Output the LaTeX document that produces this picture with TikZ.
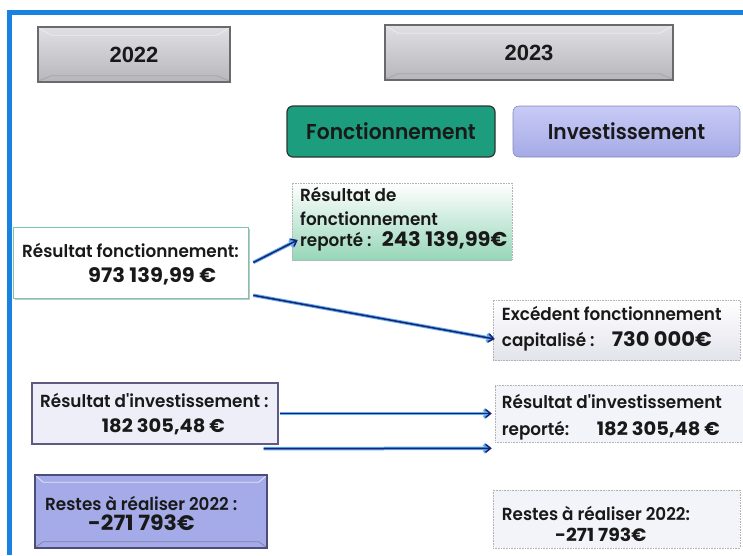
\documentclass[tikz,border=0pt]{standalone}
\usepackage{fontspec}
\setmainfont{Poppins}
\newfontfamily\lab{Poppins}[UprightFont=* SemiBold, FakeStretch=0.96]
\newfontfamily\hed{Poppins}[UprightFont=* SemiBold, FakeStretch=0.94]
\newfontfamily\num{Poppins}[UprightFont=* Bold, FakeStretch=1.05]
\newfontfamily\yr{Liberation Sans}
\usetikzlibrary{arrows.meta,calc,shadows}
\definecolor{frameblue}{RGB}{25,130,225}
\definecolor{navy}{RGB}{25,35,115}
\definecolor{glow}{RGB}{95,175,240}
\definecolor{gtop}{RGB}{224,224,228}
\definecolor{gbot}{RGB}{182,182,188}
\definecolor{gbord}{RGB}{105,105,110}
\definecolor{teal}{RGB}{28,158,126}
\definecolor{tealbord}{RGB}{40,55,48}
\definecolor{lavtop}{RGB}{200,203,246}
\definecolor{lavbot}{RGB}{165,170,230}
\definecolor{mint}{RGB}{150,214,184}
\definecolor{lavlight}{RGB}{238,238,248}
\definecolor{ribord}{RGB}{95,90,130}
\definecolor{rrfill}{RGB}{165,171,233}
\definecolor{rrbord}{RGB}{75,78,125}
\definecolor{ink}{RGB}{25,25,25}
\tikzset{
  x=1pt, y=-1pt,
  yearbox/.style={draw=gbord, line width=1.6pt, top color=gtop, bottom color=gbot, inner sep=0pt, font=\yr\bfseries\fontsize{22}{24}\selectfont, text=ink},
  headf/.style={draw=tealbord, line width=1.2pt, rounded corners=6pt, fill=teal, inner sep=0pt, font=\hed\fontsize{21.5}{24}\selectfont, text=ink},
  headi/.style={draw=lavbot!80!black, line width=0.6pt, rounded corners=6pt, top color=lavtop, bottom color=lavbot, inner sep=0pt, font=\hed\fontsize{21.5}{24}\selectfont, text=ink},
  plainbox/.style={draw=gray!60, densely dotted, line width=0.6pt, inner sep=0pt},
  lbl/.style={inner sep=0pt, anchor=base west, text=ink, font=\lab\fontsize{17.5}{20}\selectfont},
  nm/.style={inner sep=0pt, anchor=base west, text=ink, font=\num\fontsize{20}{22}\selectfont},
  conn/.style={draw=navy, line width=1.5pt, -{Straight Barb[length=5pt,width=8pt]},
    preaction={draw=glow, line width=3.5pt, -{Straight Barb[length=5pt,width=8pt]}}},
}
\begin{document}
\begin{tikzpicture}
\useasboundingbox (0,0) rectangle (743,555);
\fill[white] (0,0) rectangle (743,555);
% frame
\fill[frameblue] (7,10) rectangle (743,15);
\fill[frameblue] (7,10) rectangle (12,555);

% year boxes
\node[yearbox, minimum width=192, minimum height=55] (y22) at (134,54.5) {2022};
\node[yearbox, minimum width=288, minimum height=55] (y23) at (529,52.5) {2023};
\foreach \n in {y22,y23}{
  \draw[white!85!gray, line width=0.8pt] ($(\n.north west)+(2,2)$) -- ($(\n.north west)+(14,9)$) -- ($(\n.north east)+(-14,9)$) -- ($(\n.north east)+(-2,2)$);
  \draw[gray!70, line width=0.8pt] ($(\n.south west)+(2,-2)$) -- ($(\n.south west)+(14,-7)$) -- ($(\n.south east)+(-14,-7)$) -- ($(\n.south east)+(-2,-2)$);
}

% headers
\node[headf, minimum width=208, minimum height=51] (hf) at (391,131.5) {Fonctionnement};
\node[headi, minimum width=227, minimum height=51] (hi) at (626.5,131.5) {Investissement};

% 2022 boxes
\node[draw=teal!60, line width=0.6pt, inner sep=0pt, fill=white, drop shadow={shadow xshift=2pt, shadow yshift=-2pt, opacity=0.45}, minimum width=235, minimum height=71] (rf) at (130.5,262.5) {};
\node[lbl] (rft) at (22,257) {Résultat fonctionnement:};
\node[nm] (rfn) at (88,282) {973 139,99 €};

\node[draw=ribord, line width=1.4pt, fill=lavlight, inner sep=0pt, minimum width=246, minimum height=61] (ri) at (155,413.5) {};
\node[lbl] (rit) at (40,407.3) {Résultat d'investissement :};
\node[nm, font=\num\fontsize{18.5}{22}\selectfont] (rin) at (101.7,432.7) {182 305,48 €};

\node[draw=rrbord, line width=1.4pt, fill=rrfill, inner sep=0pt, minimum width=232, minimum height=73] (rr) at (151,511.5) {};
\draw[white!70!rrfill, line width=0.8pt] ($(rr.north west)+(2,2)$) -- ($(rr.north west)+(9,8)$) -- ($(rr.north east)+(-9,8)$) -- ($(rr.north east)+(-2,2)$);
\draw[rrbord!70, line width=0.8pt] ($(rr.south west)+(2,-2)$) -- ($(rr.south west)+(9,-7)$) -- ($(rr.south east)+(-9,-7)$) -- ($(rr.south east)+(-2,-2)$);
\node[lbl] (rrt) at (45,510) {Restes à réaliser 2022 :};
\node[nm, font=\num\fontsize{21}{22}\selectfont] (rrn) at (88,530) {-271 793€};

% 2023 boxes
\node[plainbox, top color=white, bottom color=mint, minimum width=220, minimum height=77] (rdf) at (402,221.5) {};
\node[lbl] (rdf1) at (300,201.7) {Résultat de};
\node[lbl] (rdf2) at (300,225) {fonctionnement};
\node[lbl] (rdf3) at (300,246.7) {reporté :};
\node[nm] (rdfn) at (381.7,246.7) {243 139,99€};

\node[plainbox, top color=white, bottom color=lavlight!90!gray, minimum width=247, minimum height=60] (exc) at (616.5,330) {};
\node[lbl] (exc1) at (501.7,320) {Excédent fonctionnement};
\node[lbl] (exc2) at (501.7,346.7) {capitalisé :};
\node[nm] (excn) at (611.7,346.7) {730 000€};

\node[plainbox, fill=lavlight!70!white, minimum width=248, minimum height=57] (rir) at (619,413.5) {};
\node[lbl] (rir1) at (501.7,408) {Résultat d'investissement};
\node[lbl] (rir2) at (501.7,435) {reporté:};
\node[nm, font=\num\fontsize{18.5}{22}\selectfont] (rirn) at (596.7,435) {182 305,48 €};

\node[plainbox, fill=lavlight!70!white, minimum width=247, minimum height=58] (rrr) at (616.5,519) {};
\node[lbl] (rrr1) at (501.7,520) {Restes à réaliser 2022:};
\node[nm, font=\num\fontsize{18}{22}\selectfont] (rrrn) at (555,541.7) {-271 793€};

% connectors
\draw[conn] ([xshift=5pt]rf.east) -- ([xshift=6pt,yshift=-18.5pt]rdf.west);
\draw[conn] ([xshift=5pt,yshift=3pt]rf.south east) -- ([xshift=2pt,yshift=-9pt]exc.west);
\draw[conn] ([xshift=1pt]ri.east) -- ([xshift=-3pt]rir.west);
\draw[conn] ([xshift=-15pt,yshift=-4pt]ri.south east) -- ([xshift=-3pt,yshift=-6pt]rir.south west);
\end{tikzpicture}
\end{document}
